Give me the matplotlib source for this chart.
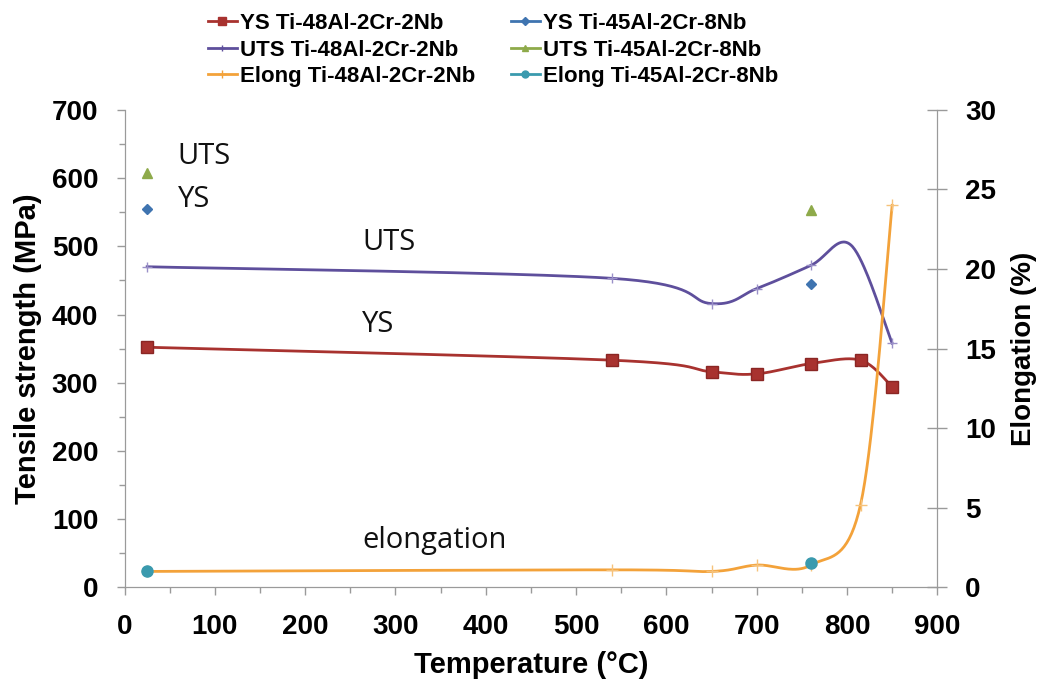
import numpy as np
import matplotlib.pyplot as plt
from matplotlib.ticker import MultipleLocator

# temperatures (°C)
temp_ys_48 = [25, 540, 650, 700, 760, 815, 850]
temp_uts_48 = [25, 540, 650, 700, 760, 805, 850]
temp_45 = [25, 760]

# Ti-48Al-2Cr-2Nb
ys_48 = [352, 333, 316, 313, 328, 333, 294]
uts_48 = [470, 453, 416, 438, 472, 501, 358]
elong_48 = [1.0, 1.1, 1.0, 1.4, 1.4, 5.2, 24.0]

# Ti-45Al-2Cr-8Nb
ys_45 = [555, 445]
uts_45 = [607, 553]
elong_45 = [1.0, 1.5]


def smooth(x, y, n=40):
    # Catmull-Rom style smoothing, like a spreadsheet "smoothed line"
    x = np.asarray(x, float)
    y = np.asarray(y, float)
    px = np.concatenate([[x[0]], x, [x[-1]]])
    py = np.concatenate([[y[0]], y, [y[-1]]])
    xs, ys = [], []
    t = np.linspace(0, 1, n)[:, None]
    for i in range(1, len(px) - 2):
        p0 = np.array([px[i-1], py[i-1]])
        p1 = np.array([px[i], py[i]])
        p2 = np.array([px[i+1], py[i+1]])
        p3 = np.array([px[i+2], py[i+2]])
        c1 = p1 + (p2 - p0) / 6
        c2 = p2 - (p3 - p1) / 6
        b = (1-t)**3*p1 + 3*(1-t)**2*t*c1 + 3*(1-t)*t**2*c2 + t**3*p2
        xs.append(b[:, 0])
        ys.append(b[:, 1])
    return np.concatenate(xs), np.concatenate(ys)


red = '#A8322F'
purple = '#5E4F9C'
orange = '#F3A23A'
green = '#8EAA4A'
blue = '#3F74B0'
teal = '#3A9AAE'

fig = plt.figure(figsize=(10.38, 6.91), dpi=100)
ax = fig.add_axes([0.120, 0.150, 0.783, 0.691])
ax2 = ax.twinx()

# strength curves
sx, sy = smooth(temp_ys_48, ys_48)
ax.plot(sx, sy, color=red, lw=2)
ax.plot(temp_ys_48, ys_48, ls='none', marker='s', ms=8, color=red, mec='#8A2624')
sx, sy = smooth(temp_uts_48, uts_48)
ax.plot(sx, sy, color=purple, lw=2)
ax.plot(temp_uts_48[:-2] + temp_uts_48[-1:], uts_48[:-2] + uts_48[-1:], ls='none',
        marker='+', ms=7, mew=1, color='#9A90C8')
ax.plot(temp_45, ys_45, ls='none', marker='D', ms=5, color=blue)
ax.plot(temp_45, uts_45, ls='none', marker='^', ms=7, color=green)

# elongation on the right axis
sx, sy = smooth(temp_ys_48, elong_48)
ax2.plot(sx, sy, color=orange, lw=2)
ax2.plot(temp_ys_48, elong_48, ls='none', marker='+', ms=9, mew=1, color='#F6C27A')
ax2.plot(temp_45, elong_45, ls='none', marker='o', ms=8, color=teal)

ax.set_xlim(0, 900)
ax.set_ylim(0, 700)
ax2.set_ylim(0, 30)
ax.xaxis.set_major_locator(MultipleLocator(100))
ax.xaxis.set_minor_locator(MultipleLocator(50))
ax.yaxis.set_major_locator(MultipleLocator(100))
ax.yaxis.set_minor_locator(MultipleLocator(50))
ax2.yaxis.set_major_locator(MultipleLocator(5))

for a in (ax, ax2):
    for s in a.spines.values():
        s.set_color('#9A9A9A')
    a.spines['top'].set_visible(False)
    a.tick_params(which='both', color='#9A9A9A', direction='out', length=6, width=1)
    a.tick_params(which='minor', length=4)
    for lab in a.get_xticklabels() + a.get_yticklabels():
        lab.set_fontfamily('Liberation Sans')
        lab.set_fontweight('bold')
        lab.set_fontsize(20)
ax.tick_params(axis='x', pad=13)
ax.tick_params(axis='y', pad=13)
ax2.tick_params(axis='y', direction='inout', length=14, pad=13)

ax.set_xlabel('Temperature (°C)', family='Liberation Sans', fontweight='bold', fontsize=21, labelpad=8)
ax.set_ylabel('Tensile strength (MPa)', family='Liberation Sans', fontweight='bold', fontsize=21, labelpad=7)
ax2.set_ylabel('Elongation (%)', family='Liberation Sans', fontweight='bold', fontsize=20, labelpad=11)

# curve labels
tk = dict(family='Open Sans', fontsize=21, color='#111111', va='baseline')
ax.text(59, 620, 'UTS', **tk)
ax.text(59, 558, 'YS', **tk)
ax.text(263, 495, 'UTS', **tk)
ax.text(263, 374, 'YS', **tk)
ax.text(263, 58, 'elongation', **tk)

# legend
h = [
    plt.Line2D([], [], color=red, marker='s', ms=6, lw=2),
    plt.Line2D([], [], color=purple, marker='+', ms=5, lw=2),
    plt.Line2D([], [], color=orange, marker='+', ms=6, lw=2),
    plt.Line2D([], [], color=blue, marker='D', ms=4, lw=2),
    plt.Line2D([], [], color=green, marker='^', ms=5, lw=2),
    plt.Line2D([], [], color=teal, marker='o', ms=5, lw=2),
]
labels = ['YS Ti-48Al-2Cr-2Nb', 'UTS Ti-48Al-2Cr-2Nb', 'Elong Ti-48Al-2Cr-2Nb',
          'YS Ti-45Al-2Cr-8Nb', 'UTS Ti-45Al-2Cr-8Nb', 'Elong Ti-45Al-2Cr-8Nb']
fig.legend(h, labels, ncol=2, loc='upper left', bbox_to_anchor=(208 / 1038, 1 - 13 / 691),
           frameon=False, prop=dict(family='Liberation Sans', weight='bold', size=16),
           handlelength=1.3, handletextpad=0.15, columnspacing=1.6, labelspacing=0.25,
           borderpad=0, borderaxespad=0)

fig.savefig('out.png', dpi=100)
